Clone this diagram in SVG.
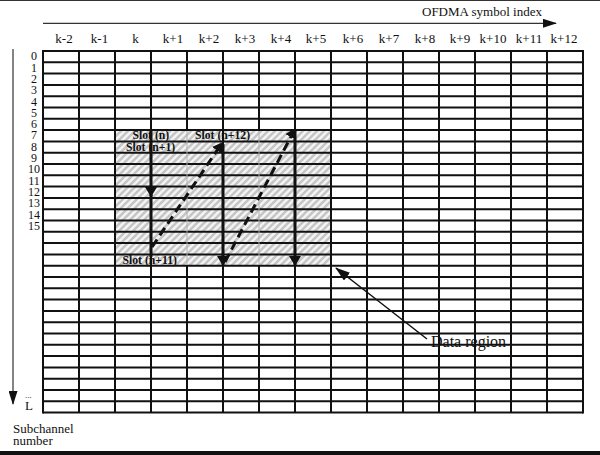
<svg xmlns="http://www.w3.org/2000/svg" width="600" height="455" viewBox="0 0 600 455">
<style>
  text { font-family: "Liberation Serif", "Times New Roman", serif; fill: #111; }
  .lbl { font-size: 13px; }
  .col { font-size: 13px; text-anchor: middle; }
  .row { font-size: 12px; text-anchor: middle; }
  .slot { font-size: 11.7px; font-weight: bold; }
  .grid { fill: none; stroke: #111; stroke-width: 2; }
  .solid { fill: none; stroke: #111; stroke-width: 3; }
  .dash { fill: none; stroke: #111; stroke-width: 3; stroke-dasharray: 9 5; }
  .axis { fill: none; stroke: #333; stroke-width: 1.2; }
</style>
<defs>
  <pattern id="hatch" patternUnits="userSpaceOnUse" width="7" height="7">
    <rect width="7" height="7" fill="#f4f4f4"/>
    <path d="M-1,8 L8,-1 M-2,2 L2,-2 M5,9 L9,5" stroke="#c6c6c6" stroke-width="2.6"/>
  </pattern>
  <marker id="ah" markerUnits="userSpaceOnUse" viewBox="0 0 10 12" markerWidth="10" markerHeight="12" refX="9" refY="6" orient="auto">
    <path d="M0,0 L10,6 L0,12 z" fill="#111"/>
  </marker>
  <marker id="ahs" markerUnits="userSpaceOnUse" viewBox="0 0 14 9" markerWidth="14" markerHeight="9" refX="13" refY="4.5" orient="auto">
    <path d="M0,0 L14,4.5 L0,9 z" fill="#111"/>
  </marker>
  <marker id="ahd" markerUnits="userSpaceOnUse" viewBox="0 0 15 10" markerWidth="15" markerHeight="10" refX="14" refY="5" orient="auto">
    <path d="M0,0 L15,5 L0,10 z" fill="#111"/>
  </marker>
</defs>

<rect x="0" y="0" width="600" height="455" fill="#fff"/>
<rect x="0" y="0" width="600" height="1" fill="#333"/>
<rect x="0" y="451" width="600" height="4" fill="#111"/>

<g id="x-axis">
  <path class="axis" d="M43,23.3 H556" marker-end="url(#ahs)"/>
  <text class="lbl" x="422" y="15.5">OFDMA symbol index</text>
</g>

<g id="y-axis">
  <path class="axis" d="M13,49 V404" marker-end="url(#ahs)"/>
  <text x="25" y="398" style="font-size:9px">...</text>
  <text class="lbl" x="25" y="410">L</text>
  <text class="lbl" x="13" y="432.5">Subchannel</text>
  <text class="lbl" x="13" y="444.5">number</text>
</g>

<g id="column-labels">
  <text class="col" x="64" y="43">k-2</text>
  <text class="col" x="99.5" y="43">k-1</text>
  <text class="col" x="135.5" y="43">k</text>
  <text class="col" x="173" y="43">k+1</text>
  <text class="col" x="209" y="43">k+2</text>
  <text class="col" x="245" y="43">k+3</text>
  <text class="col" x="281" y="43">k+4</text>
  <text class="col" x="316" y="43">k+5</text>
  <text class="col" x="353" y="43">k+6</text>
  <text class="col" x="389" y="43">k+7</text>
  <text class="col" x="425" y="43">k+8</text>
  <text class="col" x="460" y="43">k+9</text>
  <text class="col" x="493" y="43">k+10</text>
  <text class="col" x="529" y="43">k+11</text>
  <text class="col" x="564" y="43">k+12</text>
</g>

<g id="row-labels">
  <text class="row" x="34" y="60.3">0</text>
  <text class="row" x="34" y="71.6">1</text>
  <text class="row" x="34" y="82.9">2</text>
  <text class="row" x="34" y="94.2">3</text>
  <text class="row" x="34" y="105.5">4</text>
  <text class="row" x="34" y="116.8">5</text>
  <text class="row" x="34" y="128.1">6</text>
  <text class="row" x="34" y="139.4">7</text>
  <text class="row" x="34" y="150.7">8</text>
  <text class="row" x="34" y="162">9</text>
  <text class="row" x="34" y="173.3">10</text>
  <text class="row" x="34" y="184.6">11</text>
  <text class="row" x="34" y="195.9">12</text>
  <text class="row" x="34" y="207.2">13</text>
  <text class="row" x="34" y="218.5">14</text>
  <text class="row" x="34" y="229.8">15</text>
</g>

<g id="data-region-fill">
  <rect x="115" y="130.1" width="216" height="135.6" fill="url(#hatch)"/>
</g>

<g id="grid">
  <path class="grid" d="M43,51 H583 M43,62.3 H583 M43,73.6 H583 M43,84.9 H583 M43,96.2 H583 M43,107.5 H583 M43,118.8 H583 M43,130.1 H583 M43,141.4 H583 M43,152.7 H583 M43,164 H583 M43,175.3 H583 M43,186.6 H583 M43,197.9 H583 M43,209.2 H583 M43,220.5 H583 M43,231.8 H583 M43,243.1 H583 M43,254.4 H583 M43,265.7 H583 M43,277 H583 M43,288.3 H583 M43,299.6 H583 M43,310.9 H583 M43,322.2 H583 M43,333.5 H583 M43,344.8 H583 M43,356.1 H583 M43,367.4 H583 M43,378.7 H583 M43,390 H583 M43,401.3 H583 M43,412.6 H583"/>
  <path class="grid" d="M43,50 V413.6 M79,51 V412.6 M115,51 V412.6 M151,51 V412.6 M187,51 V130.1 M187,265.7 V412.6 M223,51 V412.6 M259,51 V130.1 M259,265.7 V412.6 M295,51 V412.6 M331,51 V412.6 M367,51 V412.6 M403,51 V412.6 M439,51 V412.6 M475,51 V412.6 M511,51 V412.6 M547,51 V412.6 M583,50 V413.6"/>
  <path d="M187,131 V265 M259,131 V265" stroke="#b0b0b0" stroke-width="1" fill="none"/>
</g>

<g id="slot-labels">
  <text class="slot" x="132.5" y="138.5">Slot (n)</text>
  <text class="slot" x="126" y="150.5">Slot (n+1)</text>
  <text class="slot" x="195" y="139">Slot (n+12)</text>
  <text class="slot" x="122.5" y="263.5">Slot (n+11)</text>
</g>

<g id="data-region-label">
  <text x="431" y="346.5" style="font-size:16px">Data region</text>
</g>

<g id="connectors">
  <path class="solid" d="M151,131 V196" marker-end="url(#ah)"/>
  <path class="solid" d="M151,195 V257"/>
  <path class="dash" d="M152,247 L222,143" marker-end="url(#ah)"/>
  <path class="solid" d="M223,144 V265" marker-end="url(#ah)"/>
  <path class="dash" d="M225,262 L295,129" marker-end="url(#ah)"/>
  <path class="solid" d="M295,130 V265" marker-end="url(#ah)"/>
  <path fill="none" stroke="#111" stroke-width="1.5" d="M427,339 L336,268" marker-end="url(#ahd)"/>
</g>
</svg>
